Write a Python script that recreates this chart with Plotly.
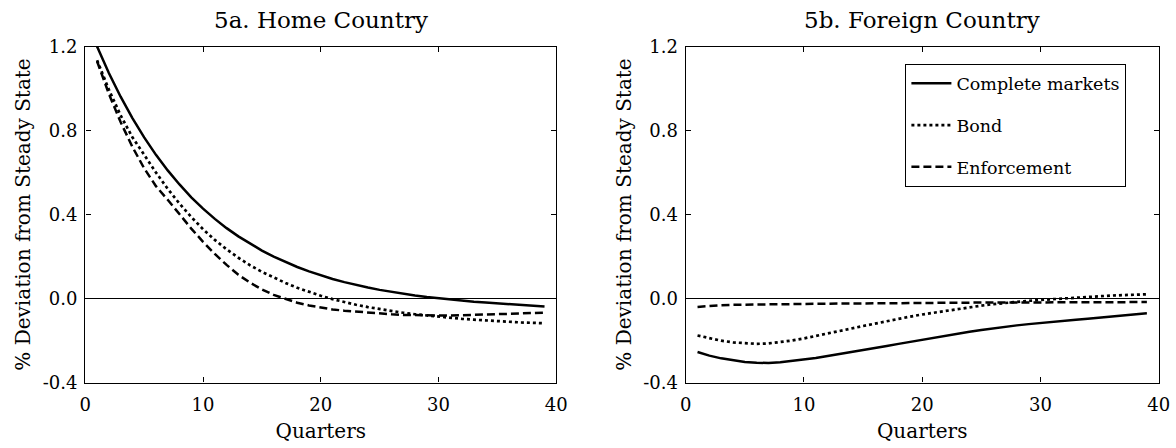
import plotly.graph_objects as go

quarters = list(range(1, 40))

home_complete = [1.20, 1.074, 0.961, 0.859, 0.767, 0.684, 0.61, 0.543, 0.482, 0.428,
                 0.379, 0.335, 0.296, 0.26, 0.228, 0.199, 0.173, 0.15, 0.129, 0.11,
                 0.093, 0.078, 0.064, 0.052, 0.041, 0.031, 0.022, 0.014, 0.007, 0.001,
                 -0.005, -0.01, -0.015, -0.019, -0.023, -0.027, -0.031, -0.034, -0.038]
home_bond = [1.135, 0.995, 0.872, 0.768, 0.685, 0.60, 0.522, 0.452, 0.388, 0.330,
             0.279, 0.234, 0.194, 0.158, 0.127, 0.099, 0.074, 0.051, 0.031, 0.013,
             -0.003, -0.017, -0.03, -0.041, -0.051, -0.06, -0.068, -0.075, -0.081, -0.087,
             -0.092, -0.097, -0.101, -0.105, -0.108, -0.111, -0.114, -0.116, -0.118]
home_enforcement = [1.13, 0.975, 0.84, 0.722, 0.62, 0.535, 0.47, 0.40, 0.333, 0.27,
                    0.212, 0.16, 0.113, 0.075, 0.043, 0.017, -0.003, -0.02, -0.033, -0.044,
                    -0.052, -0.058, -0.063, -0.068, -0.072, -0.075, -0.078, -0.08, -0.081, -0.081,
                    -0.081, -0.08, -0.079, -0.077, -0.075, -0.073, -0.071, -0.069, -0.067]

foreign_complete = [-0.255, -0.272, -0.285, -0.295, -0.302, -0.306, -0.307, -0.304, -0.298, -0.291,
                    -0.283, -0.274, -0.265, -0.256, -0.246, -0.236, -0.226, -0.216, -0.206, -0.196,
                    -0.186, -0.176, -0.167, -0.158, -0.15, -0.142, -0.135, -0.128, -0.122, -0.116,
                    -0.111, -0.106, -0.101, -0.096, -0.091, -0.086, -0.081, -0.076, -0.07]
foreign_bond = [-0.176, -0.19, -0.201, -0.209, -0.214, -0.216, -0.214, -0.208, -0.2, -0.19,
                -0.179, -0.167, -0.155, -0.143, -0.131, -0.119, -0.107, -0.096, -0.086, -0.076,
                -0.067, -0.058, -0.049, -0.041, -0.034, -0.027, -0.021, -0.016, -0.011, -0.007,
                -0.003, 0.001, 0.005, 0.008, 0.011, 0.014, 0.016, 0.018, 0.02]
foreign_enforcement = [-0.04, -0.035, -0.032, -0.03, -0.029, -0.028, -0.027, -0.026, -0.026, -0.025,
                       -0.025, -0.025, -0.024, -0.024, -0.024, -0.023, -0.023, -0.022, -0.022, -0.021,
                       -0.021, -0.02, -0.02, -0.02, -0.02, -0.019, -0.019, -0.019, -0.018, -0.018,
                       -0.018, -0.018, -0.018, -0.017, -0.017, -0.017, -0.017, -0.017, -0.017]

series_names = ["Complete markets", "Bond", "Enforcement"]
panel_titles = ["5a. Home Country", "5b. Foreign Country"]
y_title = "% Deviation from Steady State"
x_title = "Quarters"
x_ticks = [0, 10, 20, 30, 40]
x_ticklabels = ["0", "10", "20", "30", "40"]
y_ticks = [-0.4, 0.0, 0.4, 0.8, 1.2]
y_ticklabels = ["-0.4", "0.0", "0.4", "0.8", "1.2"]

FONT = "DejaVu Serif"
dashes = ["solid", "dot", "8px,4px"]
widths = [2.5, 2.7, 2.5]

fig = go.Figure()
panels = [(home_complete, home_bond, home_enforcement, "x", "y", False),
          (foreign_complete, foreign_bond, foreign_enforcement, "x2", "y2", True)]
for (c, b, e, xa, ya, show) in panels:
    for i, vals in enumerate([c, b, e]):
        fig.add_trace(go.Scatter(
            x=quarters, y=vals, mode="lines", name=series_names[i],
            line=dict(color="black", width=widths[i], dash=dashes[i]),
            xaxis=xa, yaxis=ya, showlegend=show, legendgroup=series_names[i]))

axis_common = dict(showline=True, linecolor="black", linewidth=1.4, mirror="ticks",
                   ticks="inside", ticklen=5, tickcolor="black", showgrid=False,
                   automargin=False,
                   tickfont=dict(family=FONT, size=18, color="black"))
xt = dict(text=x_title, font=dict(family=FONT, size=20, color="black"), standoff=9)
yt = dict(text=y_title, font=dict(family=FONT, size=20, color="black"), standoff=6)
ydom = [1 - 382.5 / 448, 1 - 46.5 / 448]

fig.update_layout(
    width=1176, height=448,
    margin=dict(l=0, r=0, t=0, b=0),
    paper_bgcolor="white", plot_bgcolor="white",
    font=dict(family=FONT, color="black"),
    xaxis=dict(domain=[85.3 / 1176, 556.3 / 1176], range=[0, 40], tickvals=x_ticks,
               ticktext=x_ticklabels, anchor="y", zeroline=False, title=xt,
               ticklabelstandoff=6, **axis_common),
    yaxis=dict(domain=ydom, range=[-0.4, 1.2], tickvals=y_ticks,
               ticktext=y_ticklabels, anchor="x", zeroline=True, zerolinecolor="black",
               zerolinewidth=1.2, title=yt, ticklabelstandoff=3, **axis_common),
    xaxis2=dict(domain=[685.7 / 1176, 1158.7 / 1176], range=[0, 40], tickvals=x_ticks,
                ticktext=x_ticklabels, anchor="y2", zeroline=False, title=xt,
                ticklabelstandoff=6, **axis_common),
    yaxis2=dict(domain=ydom, range=[-0.4, 1.2], tickvals=y_ticks,
                ticktext=y_ticklabels, anchor="x2", zeroline=True, zerolinecolor="black",
                zerolinewidth=1.2, title=yt, ticklabelstandoff=3, **axis_common),
    legend=dict(x=905 / 1176, y=1 - 64 / 448, xanchor="left", yanchor="top",
                bgcolor="white", bordercolor="black", borderwidth=1.4,
                font=dict(family=FONT, size=17.5, color="black"),
                tracegroupgap=16, itemwidth=40),
    annotations=[
        dict(text=panel_titles[0], x=(85.3 + 556.3) / 2 / 1176, y=1 - 20 / 448,
             xref="paper", yref="paper", showarrow=False, xanchor="center", yanchor="middle",
             font=dict(family=FONT, size=23, color="black")),
        dict(text=panel_titles[1], x=(685.7 + 1158.7) / 2 / 1176, y=1 - 20 / 448,
             xref="paper", yref="paper", showarrow=False, xanchor="center", yanchor="middle",
             font=dict(family=FONT, size=23, color="black")),
    ],
)

fig.write_html("out.html", config={"displayModeBar": False},
               post_script="document.body.style.margin='0px';")
